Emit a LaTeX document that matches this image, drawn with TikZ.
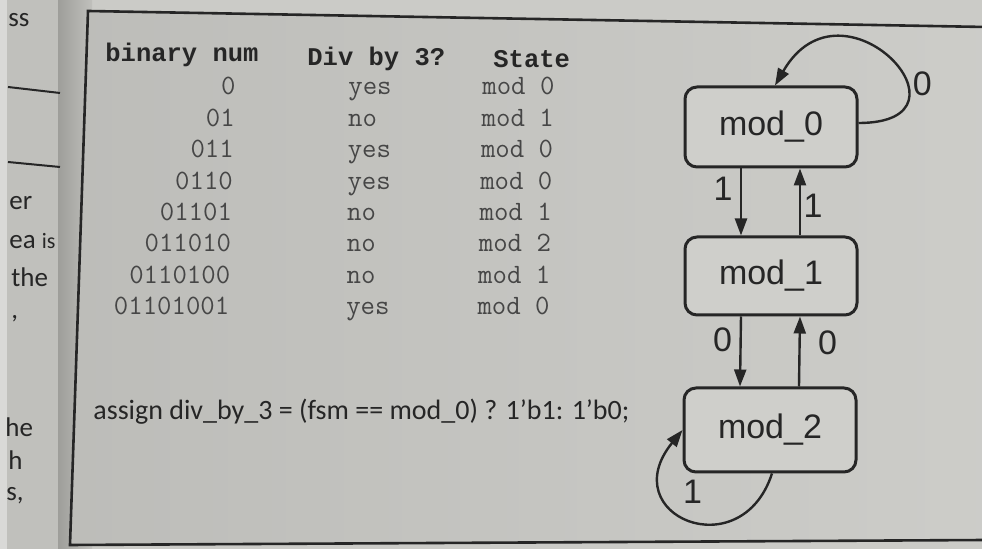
\documentclass[tikz,border=0pt]{standalone}
\usepackage{fontspec}
\setmainfont{Carlito}
\newfontfamily\codefont{Liberation Mono}
\newfontfamily\diagfont{Liberation Sans}
\usetikzlibrary{arrows.meta}

\definecolor{paper}{RGB}{203,203,199}
\definecolor{leftpage}{RGB}{192,192,188}
\definecolor{gutter}{RGB}{158,158,154}
\definecolor{ink}{RGB}{38,38,38}
\definecolor{inkgray}{RGB}{70,70,70}

\tikzset{
  state/.style={draw=ink, line width=1.5pt, rounded corners=6pt, fill=paper!92!white,
    minimum width=86pt, minimum height=40pt, inner sep=0pt,
    font=\diagfont\fontsize{17}{20}\selectfont, text=ink},
  trans/.style={draw=ink, line width=1.2pt, -{Triangle[length=8.5pt,width=6pt]}},
  translabel/.style={font=\diagfont\fontsize{17}{20}\selectfont, text=ink, inner sep=0pt},
  hdrcell/.style={font=\codefont\bfseries\fontsize{12.75}{15}\selectfont, text=ink,
    inner sep=0pt, anchor=base west},
  cell/.style={font=\ttfamily\fontsize{14}{16}\selectfont, text=inkgray, inner sep=0pt},
  margintext/.style={font=\fontsize{13.5}{16}\selectfont, text=ink, inner sep=0pt, anchor=base west}
}

\begin{document}
\begin{tikzpicture}[x=0.5pt, y=-0.5pt]
\useasboundingbox (0,0) rectangle (982,549);

% Paper, facing page and gutter
\fill[paper] (0,0) rectangle (982,549);
\fill[leftpage] (0,0) rectangle (60,549);
\fill[leftpage!60!white] (0,0) rectangle (7,549);
\shade[left color=gutter, right color=leftpage] (58,0) rectangle (92,549);

% Facing page text (cut off)
\begin{scope}
  \clip (0,0) rectangle (60,549);
  \node[margintext] (m1) at (8,27) {ss};
  \draw[ink, line width=1pt] (8,87) -- (60,93);
  \draw[ink, line width=1pt] (8,162) -- (60,167);
  \node[margintext] (m2) at (9,210) {er};
  \node[margintext] (m3) at (9,249) {ea \fontsize{11}{12}\selectfont is};
  \node[margintext] (m4) at (11,287) {the};
  \node[margintext] (m5) at (11,319) {,};
  \node[margintext] (m6) at (5,437) {he};
  \node[margintext] (m7) at (8,470) {h};
  \node[margintext] (m8) at (6,501) {s,};
\end{scope}

% Frame
\shade[left color=paper!93!black, right color=paper!97!white]
  (986,27) -- (88,11) -- (70,545) -- (986,540) -- cycle;
\draw[ink, line width=1.3pt] (986,27) -- (88,11) -- (70,545) -- (986,540);

% Table header
\node[hdrcell] (hbin) at (105,62) {binary num};
\node[hdrcell] (hdiv) at (307,66) {Div by 3?};
\node[hdrcell] (hstate) at (493,68) {State};

% Table rows
\foreach \bits/\ans/\rem [count=\i from 0] in
  {0/yes/0, 01/no/1, 011/yes/0, 0110/yes/0, 01101/no/1, 011010/no/2, 0110100/no/1, 01101001/yes/0} {
  \node[cell, anchor=base east] (bin\i) at ({236-0.9*\i}, {95+31.4*\i}) {\bits};
  \node[cell, anchor=base west] (ans\i) at ({348-0.3*\i}, {95+31.4*\i}) {\ans};
  \node[cell, anchor=base west] (rem\i) at ({482-0.7*\i}, {95+31.4*\i}) {mod \rem};
}

% Assign statement
\node[font=\fontsize{14}{17}\selectfont, text=ink, inner sep=0pt, anchor=base west]
  (assign) at (93,420) {assign div\_by\_3 = (fsm == mod\_0) ? 1’b1: 1’b0;};

% States
\node[state] (mod0) at (771,127) {mod\_0};
\node[state, minimum height=39pt] (mod1) at (771,276) {mod\_1};
\node[state, minimum height=42pt] (mod2) at (770,430) {mod\_2};

% Transitions
\draw[trans] ([xshift=-15pt]mod0.south) -- node[translabel, pos=0.31, xshift=-9pt] {1} ([xshift=-15pt]mod1.north);
\draw[trans] ([xshift=14.5pt]mod1.north) -- node[translabel, pos=0.44, xshift=6.5pt] {1} ([xshift=14.5pt]mod0.south);
\draw[trans] ([xshift=-15pt]mod1.south) -- node[translabel, pos=0.34, xshift=-9pt] {0} ([xshift=-15pt]mod2.north);
\draw[trans] ([xshift=14.5pt]mod2.north) -- node[translabel, pos=0.62, xshift=14pt] {0} ([xshift=14.5pt]mod1.south);

% Self loops
\draw[trans] ([yshift=2pt]mod0.east) .. controls +(0:63.5pt) and +(60:68pt) .. ([xshift=2pt]mod0.north)
  node[translabel, pos=0.35, anchor=west, xshift=2pt] {0};
\draw[trans] ([xshift=1pt]mod2.south) .. controls +(-108:50pt) and +(231:55pt) .. (mod2.west)
  node[translabel, pos=0.6, xshift=8.75pt, yshift=8.75pt] {1};

\end{tikzpicture}
\end{document}
